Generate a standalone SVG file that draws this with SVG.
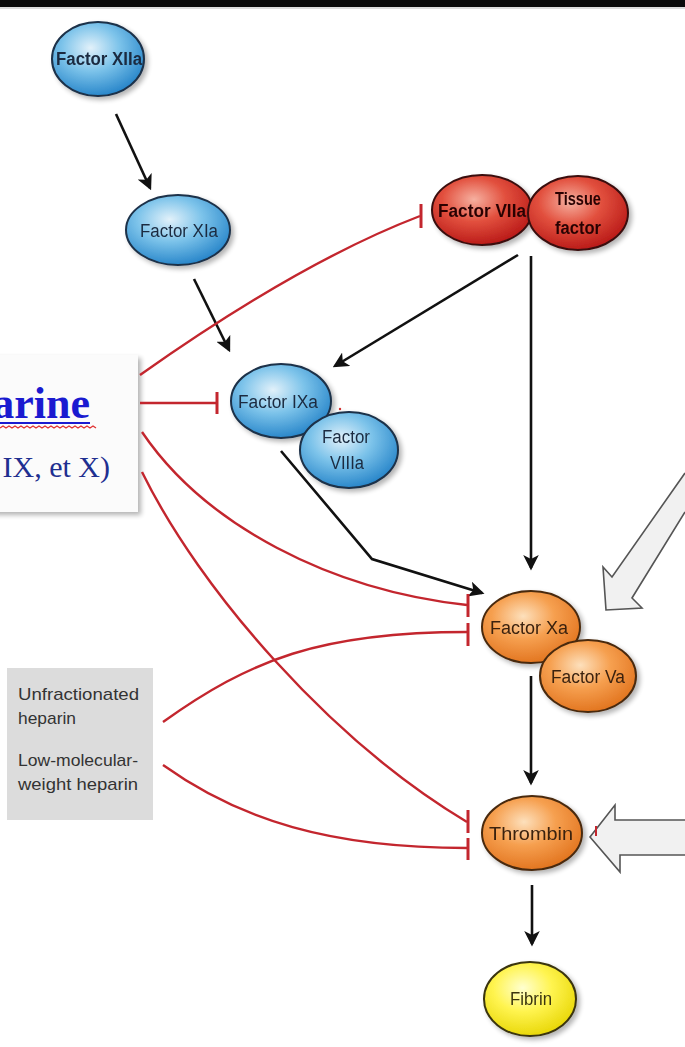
<svg xmlns="http://www.w3.org/2000/svg" width="685" height="1047" viewBox="0 0 685 1047">
<style>
.lbl{font-family:"Liberation Sans",Arial,sans-serif;font-size:18px;text-anchor:middle}
.blueT{fill:#1b2b40}
.redT{fill:#2a0606;font-weight:bold}
.orT{fill:#3a2210}
.yeT{fill:#3a3410}
.blk{fill:none;stroke:#111;stroke-width:2.6;marker-end:url(#ah)}
.inh{fill:none;stroke:#c3262e;stroke-width:2.4}
.bar{stroke:#c3262e;stroke-width:3;fill:none}
.big{fill:#f1f1f1;stroke:#555;stroke-width:1.6;stroke-linejoin:miter}
.box{font-family:"Liberation Sans",Arial,sans-serif;font-size:17px;fill:#333}
</style>
<defs>
<radialGradient id="gB" cx="0.42" cy="0.35" r="0.7">
<stop offset="0" stop-color="#e2f1fa"/><stop offset="0.45" stop-color="#7cc3ea"/><stop offset="1" stop-color="#1f7fc6"/>
</radialGradient>
<radialGradient id="gR" cx="0.42" cy="0.35" r="0.7">
<stop offset="0" stop-color="#f6b0a0"/><stop offset="0.45" stop-color="#e2503e"/><stop offset="1" stop-color="#b51414"/>
</radialGradient>
<radialGradient id="gO" cx="0.42" cy="0.35" r="0.7">
<stop offset="0" stop-color="#fde0bc"/><stop offset="0.45" stop-color="#f6a050"/><stop offset="1" stop-color="#e0701a"/>
</radialGradient>
<radialGradient id="gY" cx="0.42" cy="0.35" r="0.7">
<stop offset="0" stop-color="#ffffd0"/><stop offset="0.45" stop-color="#fff450"/><stop offset="1" stop-color="#e6d400"/>
</radialGradient>
<filter id="sh" x="-20%" y="-20%" width="150%" height="150%">
<feGaussianBlur in="SourceAlpha" stdDeviation="2.5"/><feOffset dx="3" dy="3"/>
<feComponentTransfer><feFuncA type="linear" slope="0.3"/></feComponentTransfer>
<feMerge><feMergeNode/><feMergeNode in="SourceGraphic"/></feMerge>
</filter>
<marker id="ah" viewBox="0 0 12 12" refX="10" refY="6" markerWidth="6" markerHeight="6" orient="auto" markerUnits="strokeWidth">
<path d="M0,0 L12,6 L0,12 L3,6 z" fill="#111"/>
</marker>
</defs>
<rect width="685" height="1047" fill="#fff"/>
<rect x="0" y="0" width="685" height="7" fill="#0a0a0a"/>
<line x1="0" y1="8" x2="685" y2="8" stroke="#bbb" stroke-width="1"/>

<g id="heparine-box">
<rect x="-10" y="355" width="148" height="157" fill="#fbfbfb" filter="url(#sh)"/>
<text x="90" y="418" font-family="'Liberation Serif','Times New Roman',serif" font-size="44" font-weight="bold" fill="#1a1ad0" text-anchor="end">arine</text>
<line x1="0" y1="423" x2="90" y2="423" stroke="#1a1ad0" stroke-width="2"/>
<path d="M0,428 l3,-2 l3,2 l3,-2 l3,2 l3,-2 l3,2 l3,-2 l3,2 l3,-2 l3,2 l3,-2 l3,2 l3,-2 l3,2 l3,-2 l3,2 l3,-2 l3,2 l3,-2 l3,2 l3,-2 l3,2 l3,-2 l3,2 l3,-2 l3,2 l3,-2 l3,2 l3,-2 l3,2 l3,-2 l3,2" fill="none" stroke="#e03030" stroke-width="1.3"/>
<text x="110" y="477" font-family="'Liberation Serif','Times New Roman',serif" font-size="30" fill="#1f2f90" text-anchor="end">IX, et X)</text>
</g>

<g id="ufh-box">
<rect x="7" y="668" width="146" height="152" fill="#dcdcdc"/>
<text class="box" x="18" y="700" textLength="121" lengthAdjust="spacingAndGlyphs">Unfractionated</text>
<text class="box" x="18" y="724" textLength="58" lengthAdjust="spacingAndGlyphs">heparin</text>
<text class="box" x="18" y="766" textLength="120" lengthAdjust="spacingAndGlyphs">Low-molecular-</text>
<text class="box" x="18" y="790" textLength="120" lengthAdjust="spacingAndGlyphs">weight heparin</text>
</g>

<g id="big-arrows">
<path class="big" d="M685,473 L612,577 L603,567 L606,610 L642,608 L632,598 L685,512"/>
<path class="big" d="M685,820 L615,820 L615,805 L590,837 L620,872 L620,855 L685,855"/>
</g>

<g id="connectors">
<path class="blk" d="M116,114 L150,188"/>
<path class="blk" d="M194,279 L229,350"/>
<path class="blk" d="M518,255 L335,366"/>
<path class="blk" d="M531,256 L531,568"/>
<path class="blk" d="M281,451 L372,559 L482,593"/>
<path class="blk" d="M531,676 L531,783"/>
<path class="blk" d="M532,885 L532,944"/>

<path class="inh" d="M140,375 Q300,262 420,216"/>
<line class="bar" x1="421" y1="204" x2="421" y2="228"/>
<path class="inh" d="M140,403 L217,403"/>
<line class="bar" x1="217" y1="392" x2="217" y2="414"/>
<path class="inh" d="M142,432 C205,525 330,590 467,605"/>
<line class="bar" x1="468" y1="594" x2="468" y2="617"/>
<path class="inh" d="M163,722 C250,660 320,632 467,632"/>
<line class="bar" x1="468" y1="623" x2="468" y2="646"/>
<path class="inh" d="M142,472 C200,590 330,740 467,822"/>
<line class="bar" x1="468" y1="810" x2="468" y2="833"/>
<path class="inh" d="M163,765 C240,820 330,848 467,848"/>
<line class="bar" x1="468" y1="838" x2="468" y2="860"/>
<line x1="596" y1="826" x2="596" y2="836" stroke="#c3262e" stroke-width="2"/>
</g>

<g id="factor-XIIa" filter="url(#sh)">
<ellipse cx="98" cy="59" rx="46" ry="37" fill="url(#gB)" stroke="#1c3048" stroke-width="2"/>
<text class="lbl blueT" x="99" y="65" font-weight="bold" textLength="86" lengthAdjust="spacingAndGlyphs">Factor XIIa</text>
</g>
<g id="factor-XIa" filter="url(#sh)">
<ellipse cx="178" cy="230" rx="52" ry="35" fill="url(#gB)" stroke="#1c3048" stroke-width="2"/>
<text class="lbl blueT" x="179" y="237" textLength="78" lengthAdjust="spacingAndGlyphs">Factor XIa</text>
</g>
<g id="factor-VIIa" filter="url(#sh)">
<ellipse cx="482" cy="210" rx="50" ry="35" fill="url(#gR)" stroke="#3a1010" stroke-width="2"/>
<text class="lbl redT" x="482" y="217" textLength="88" lengthAdjust="spacingAndGlyphs">Factor VIIa</text>
</g>
<g id="tissue-factor" filter="url(#sh)">
<ellipse cx="578" cy="213" rx="50" ry="37" fill="url(#gR)" stroke="#3a1010" stroke-width="2"/>
<text class="lbl redT" x="578" y="205" textLength="46" lengthAdjust="spacingAndGlyphs">Tissue</text>
<text class="lbl redT" x="578" y="234" textLength="46" lengthAdjust="spacingAndGlyphs">factor</text>
</g>
<g id="factor-IXa" filter="url(#sh)">
<ellipse cx="281" cy="401" rx="50" ry="37" fill="url(#gB)" stroke="#1c3048" stroke-width="2"/>
<text class="lbl blueT" x="278" y="408" textLength="80" lengthAdjust="spacingAndGlyphs">Factor IXa</text>
<circle cx="340" cy="409" r="1.2" fill="#d03030"/>
</g>
<g id="factor-VIIIa" filter="url(#sh)">
<ellipse cx="349" cy="450" rx="49" ry="38" fill="url(#gB)" stroke="#1c3048" stroke-width="2"/>
<text class="lbl blueT" x="346" y="443" textLength="48" lengthAdjust="spacingAndGlyphs">Factor</text>
<text class="lbl blueT" x="347" y="469" textLength="34" lengthAdjust="spacingAndGlyphs">VIIIa</text>
</g>
<g id="factor-Xa" filter="url(#sh)">
<ellipse cx="531" cy="627" rx="49" ry="36" fill="url(#gO)" stroke="#4a2a10" stroke-width="2"/>
<text class="lbl orT" x="529" y="634" textLength="78" lengthAdjust="spacingAndGlyphs">Factor Xa</text>
</g>
<g id="factor-Va" filter="url(#sh)">
<ellipse cx="588" cy="676" rx="48" ry="36" fill="url(#gO)" stroke="#4a2a10" stroke-width="2"/>
<text class="lbl orT" x="588" y="683" textLength="74" lengthAdjust="spacingAndGlyphs">Factor Va</text>
</g>
<g id="thrombin" filter="url(#sh)">
<ellipse cx="532" cy="833" rx="50" ry="37" fill="url(#gO)" stroke="#4a2a10" stroke-width="2"/>
<text class="lbl orT" x="531" y="840" textLength="84" lengthAdjust="spacingAndGlyphs">Thrombin</text>
</g>
<g id="fibrin" filter="url(#sh)">
<ellipse cx="530" cy="999" rx="46" ry="37" fill="url(#gY)" stroke="#3a3410" stroke-width="2"/>
<text class="lbl yeT" x="531" y="1005" textLength="42" lengthAdjust="spacingAndGlyphs">Fibrin</text>
</g>
</svg>
